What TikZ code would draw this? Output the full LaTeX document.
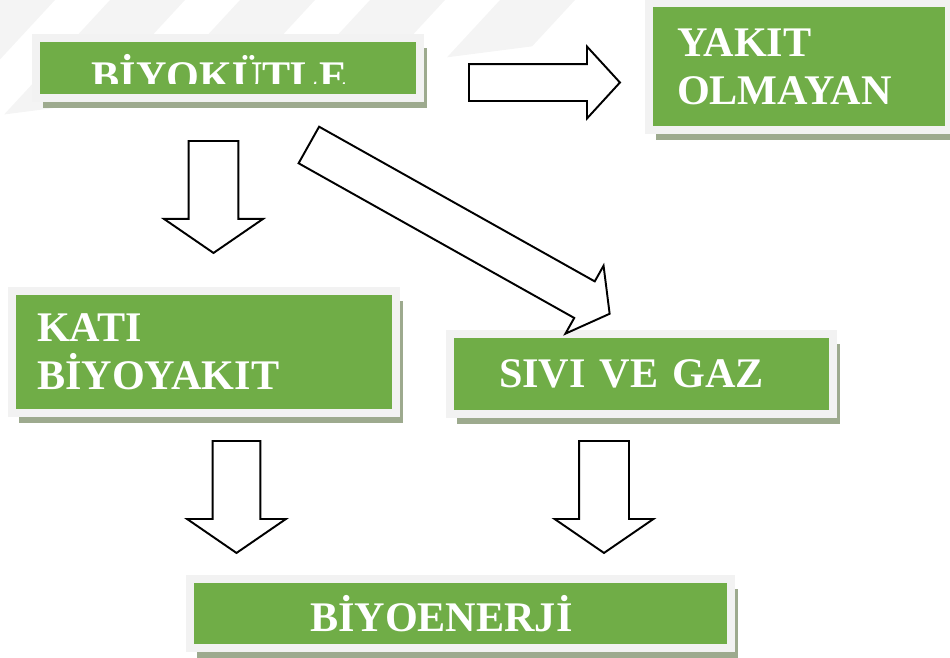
\documentclass[tikz,border=0pt]{standalone}
\usepackage{fontspec}
\setmainfont{Liberation Serif}
\usetikzlibrary{shapes.arrows,shadows}

\definecolor{boxgreen}{HTML}{70AD47}
\definecolor{boxframe}{HTML}{F2F2F2}
\definecolor{boxshadow}{HTML}{9DAA8E}
\definecolor{stripegray}{HTML}{F4F4F4}

\begin{document}
\begin{tikzpicture}[
    x=0.02cm, y=-0.02cm,
    boxfont/.style={
        text=white,
        font=\fontsize{24}{27.5}\selectfont\bfseries,
        inner sep=0pt
    },
    greenbox/.style={
        rectangle,
        boxfont,
        fill=boxgreen,
        draw=boxframe,
        line width=0.16cm,
        general shadow={fill=boxshadow, shadow xshift=0.14cm, shadow yshift=-0.2cm}
    },
    blockarrow/.style={
        single arrow,
        draw=black,
        fill=white,
        line width=1.1pt,
        inner xsep=0pt,
        single arrow head indent=0pt,
        anchor=tail
    }
]
\useasboundingbox (0,0) rectangle (950,657);

% Background stripes
\begin{scope}
    \clip (0,0) -- (650,0) -- (620,35) -- (0,115) -- cycle;
    \foreach \s in {0,130,260,390,520}
        \fill[stripegray] (\s-20,0) -- (\s+55,0) -- (\s-56,120) -- (\s-131,120) -- cycle;
\end{scope}

% Biyokutle
\node[greenbox, minimum width=7.68cm, minimum height=1.2cm] (biyokutle) at (228,68) {};
\coordinate (cutline) at (0,83);
\begin{scope}
    \clip (biyokutle.north west) rectangle (biyokutle.east |- cutline);
    \node[boxfont, anchor=base] (biyokutlelabel) at (219.5,90) {BİYOKÜTLE};
\end{scope}

% Yakit olmayan
\node[greenbox, minimum width=6cm, minimum height=2.54cm,
      text width=4.88cm, align=left] (yakitolmayan) at (799,66.5) {YAKIT\\OLMAYAN};

% Kati biyoyakit
\node[greenbox, minimum width=7.68cm, minimum height=2.44cm,
      text width=6.68cm, align=left] (katibiyoyakit) at (204,352) {KATI\\BİYOYAKIT};

% Sivi ve gaz
\node[greenbox, minimum width=7.66cm, minimum height=1.6cm,
      text width=5.7cm, align=left] (siviVeGaz) at (641.5,374) {SIVI VE GAZ};

% Biyoenerji
\node[greenbox, minimum width=10.82cm, minimum height=1.38cm,
      text width=6.02cm, align=left] (biyoenerji) at (460.5,613.5) {BİYOENERJİ};

% Arrows
\node[blockarrow, minimum height=3.02cm, inner ysep=0.35cm,
      single arrow head extend=0.35cm, single arrow tip angle=95] (arrowyakit) at (468,82.5) {};
\node[blockarrow, rotate=-90, minimum height=2.24cm, inner ysep=0.48cm,
      single arrow head extend=0.49cm, single arrow tip angle=111] (arrowkati) at (213.5,140) {};
\node[blockarrow, rotate=-29.3, minimum height=6.9cm, inner ysep=0.4cm,
      single arrow head extend=0.36cm, single arrow tip angle=107] (arrowsivi) at (308,144.5) {};
\node[blockarrow, rotate=-90, minimum height=2.24cm, inner ysep=0.46cm,
      single arrow head extend=0.51cm, single arrow tip angle=111] (arrowkatienerji) at (236.5,440) {};
\node[blockarrow, rotate=-90, minimum height=2.24cm, inner ysep=0.48cm,
      single arrow head extend=0.49cm, single arrow tip angle=111] (arrowsivienerji) at (604,440) {};

\end{tikzpicture}
\end{document}
